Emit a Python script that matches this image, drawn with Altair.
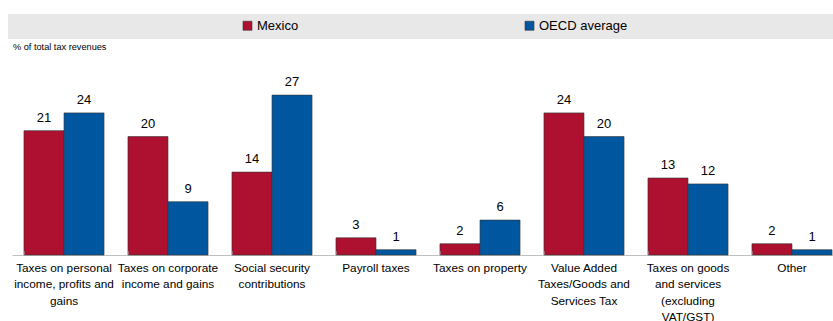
import altair as alt
import pandas as pd

categories = [
    "Taxes on personal|income, profits and|gains",
    "Taxes on corporate|income and gains",
    "Social security|contributions",
    "Payroll taxes",
    "Taxes on property",
    "Value Added|Taxes/Goods and|Services Tax",
    "Taxes on goods|and services|(excluding|VAT/GST)",
    "Other",
]
series = ["Mexico", "OECD average"]
mexico = [21.0, 20.0, 14.0, 2.9, 1.9, 24.0, 13.0, 1.9]
oecd = [24.0, 9.0, 27.0, 0.9, 5.9, 20.0, 12.0, 0.9]
colors = ["#AE1030", "#0057A0"]
subtitle = "% of total tax revenues"

rows = []
for c, m, o in zip(categories, mexico, oecd):
    rows.append({"category": c, "series": series[0], "value": m})
    rows.append({"category": c, "series": series[1], "value": o})
df = pd.DataFrame(rows)

FONT = "Liberation Sans, Arial, sans-serif"
W, H = 821, 196

xscale = alt.Scale(domain=categories, range=[0, 832], paddingInner=0.23, paddingOuter=0.115)
xoff = alt.XOffset("series:N", sort=series, scale=alt.Scale(paddingInner=0, paddingOuter=0))
yscale = alt.Scale(domain=[0, 33.1], nice=False)

base = alt.Chart(df)

bars = base.mark_bar(stroke="#333333", strokeWidth=0.6).encode(
    x=alt.X("category:N", sort=categories, scale=xscale, title=None,
            axis=alt.Axis(labelExpr="split(datum.value, '|')", labelAngle=0, labelLimit=0,
                          labelFont=FONT, labelFontSize=11.8, labelColor="#000000",
                          labelLineHeight=16.5, labelPadding=7, labelBaseline="top",
                          ticks=False, domainColor="#c0c0c0", domainWidth=1, grid=False)),
    xOffset=xoff,
    y=alt.Y("value:Q", scale=yscale, axis=None),
    color=alt.Color("series:N", sort=series, scale=alt.Scale(domain=series, range=colors),
                    legend=alt.Legend(title=None, orient="none", legendX=229, legendY=-40,
                                      direction="horizontal", symbolType="square",
                                      symbolSize=81, symbolStrokeColor="#333333",
                                      symbolStrokeWidth=0.6, labelFont=FONT, labelFontSize=13,
                                      labelColor="#000000", labelOffset=3, columnPadding=224,
                                      padding=0)),
)

labels = base.mark_text(font=FONT, fontSize=13, baseline="alphabetic", dy=-9, color="#000000").encode(
    x=alt.X("category:N", sort=categories, scale=xscale),
    xOffset=xoff,
    y=alt.Y("value:Q", scale=yscale),
    text=alt.Text("value:Q", format=".0f"),
)

ticks = alt.Chart(pd.DataFrame({"category": categories})).mark_rule(color="#c0c0c0", strokeWidth=1).encode(
    x=alt.X("category:N", sort=categories, scale=xscale, bandPosition=0),
    y=alt.value(H - 4),
    y2=alt.value(H),
)

band = alt.Chart(pd.DataFrame({"a": [0]})).mark_rect(color="#e8e8e8").encode(
    x=alt.value(-4), x2=alt.value(W + 10), y=alt.value(-45), y2=alt.value(-20)
)

sub = alt.Chart(pd.DataFrame({"t": [subtitle]})).mark_text(
    font=FONT, fontSize=9.2, align="left", baseline="middle", color="#000000"
).encode(x=alt.value(1), y=alt.value(-12), text="t:N")

chart = alt.layer(band, bars, labels, ticks, sub).properties(
    width=W, height=H,
    background="white",
    autosize=alt.AutoSizeParams(type="none"),
    padding={"left": 12, "top": 59, "right": 0, "bottom": 66},
).configure_view(stroke="transparent", strokeWidth=0)

chart.save("out.html", embed_options={"renderer": "svg", "actions": False})
